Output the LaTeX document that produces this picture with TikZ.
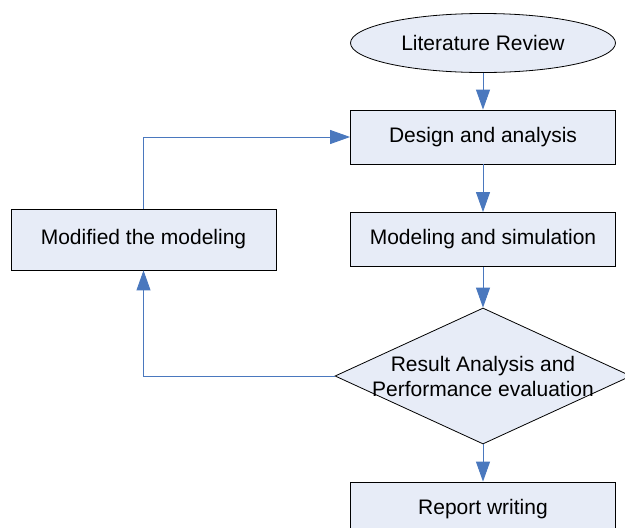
\documentclass[tikz,border=0pt]{standalone}
\usepackage{fontspec}
\setmainfont{Liberation Sans}
\usepackage{tikz}
\usetikzlibrary{arrows.meta}
\usetikzlibrary{shapes.geometric}

\definecolor{boxfill}{RGB}{231,236,247}
\definecolor{flowblue}{RGB}{74,120,190}

\tikzset{
    stepbox/.style={draw=black,line width=0.8pt,fill=boxfill,rectangle,
        minimum width=265pt,minimum height=54pt,inner sep=0pt,
        font=\fontsize{21}{25}\selectfont},
    startbox/.style={stepbox,ellipse,minimum height=59pt},
    decision/.style={draw=black,line width=0.8pt,fill=boxfill,diamond,
        minimum width=296pt,minimum height=136pt,inner sep=0pt},
    flow/.style={draw=flowblue,line width=0.9pt,
        -{Triangle[length=20pt,width=14pt,fill=flowblue]}},
}

\begin{document}
\begin{tikzpicture}[x=1pt,y=-1pt]
        \useasboundingbox (0,0) rectangle (625,528);

        % Main column
        \node [startbox] (review) at (483,43) {Literature Review};
        \node [stepbox] (design) at (483,137) {Design and analysis};
        \node [stepbox] (modeling) at (483,239.5) {Modeling and simulation};
        \node [decision] (result) at (483,376) {};
        \node [align=center,font=\fontsize{21}{25}\selectfont] (resulttext) at (483,376)
            {Result Analysis and\\Performance evaluation};
        \node [stepbox] (report) at (483,509) {Report writing};

        % Feedback box
        \node [stepbox,minimum height=61pt] (modified) at (143.5,239.5) {Modified the modeling};

        % Arrows
        \draw [flow] (review) -- (design);
        \draw [flow] (design) -- (modeling);
        \draw [flow] (modeling) -- (result);
        \draw [flow] (result) -- (report);
        \draw [flow] (result.west) -| (modified.south);
        \draw [flow] (modified.north) |- (design.west);
    \end{tikzpicture}
\end{document}
